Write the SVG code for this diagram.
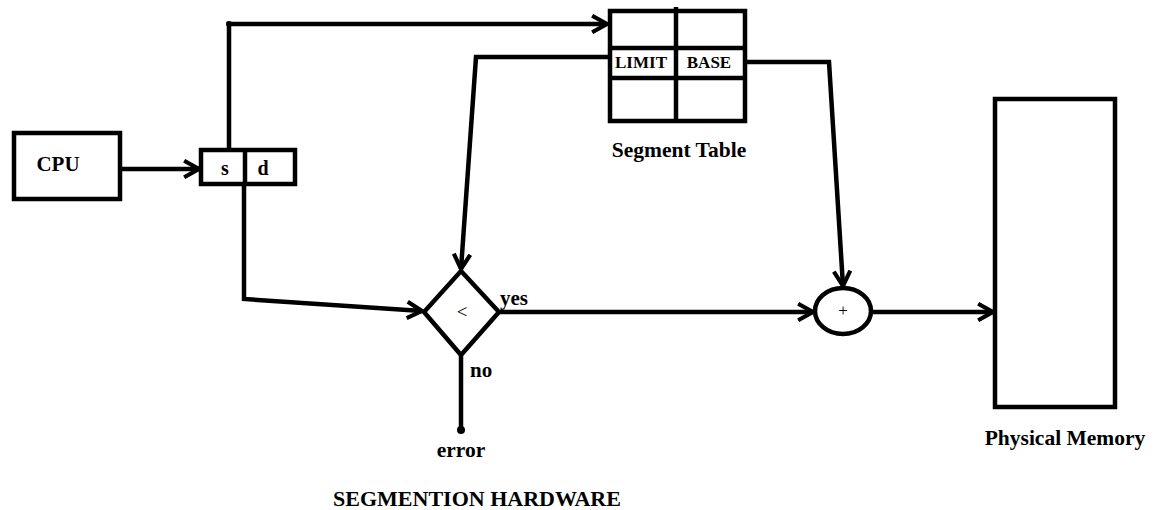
<svg xmlns="http://www.w3.org/2000/svg" width="1157" height="510" viewBox="0 0 1157 510">
<style>
.box{fill:#fff;stroke:#000;stroke-width:4.5}
.ln{fill:none;stroke:#000;stroke-width:4.5;stroke-linejoin:miter}
.t{font-family:"Liberation Serif",serif;font-weight:bold;fill:#000}
</style>
<defs>
<marker id="ah" viewBox="0 0 12 12" refX="11" refY="6" markerWidth="4.4" markerHeight="4.4" orient="auto" markerUnits="strokeWidth">
<path d="M2,1 L11,6 L2,11" fill="none" stroke="#000" stroke-width="2.5"/>
</marker>
</defs>
<rect width="1157" height="510" fill="#fff"/>
<g id="connectors">
<path class="ln" d="M118,169 L199,169" marker-end="url(#ah)"/>
<path class="ln" d="M229,149 L229,24 L607,24" marker-end="url(#ah)"/>
<path class="ln" d="M244,184 L244,299 L422,311" marker-end="url(#ah)"/>
<path class="ln" d="M610,57 L476,57 L461,269" marker-end="url(#ah)"/>
<path class="ln" d="M746,62 L829,62 L843,286" marker-end="url(#ah)"/>
<path class="ln" d="M500,312 L813,312" marker-end="url(#ah)"/>
<path class="ln" d="M873,312 L993,312" marker-end="url(#ah)"/>
<path class="ln" d="M461,356 L461,430"/>
<circle cx="118" cy="169" r="3"/>
<circle cx="229" cy="24" r="3"/>
<circle cx="461" cy="430" r="4"/>
</g>
<g id="cpu">
<rect class="box" x="14" y="133" width="106" height="66"/>
<text class="t" x="58" y="171" font-size="21" text-anchor="middle">CPU</text>
</g>
<g id="address">
<rect class="box" x="201" y="150" width="94" height="34"/>
<line class="ln" x1="245" y1="150" x2="245" y2="184"/>
<text class="t" x="225" y="175" font-size="20" text-anchor="middle">s</text>
<text class="t" x="263" y="175" font-size="20" text-anchor="middle">d</text>
</g>
<g id="segment-table">
<rect class="box" x="610" y="11" width="135" height="110"/>
<line class="ln" x1="610" y1="48" x2="745" y2="48"/>
<line class="ln" x1="610" y1="78" x2="745" y2="78"/>
<line class="ln" x1="676" y1="7" x2="676" y2="121"/>
<text class="t" x="641" y="68" font-size="17" text-anchor="middle">LIMIT</text>
<text class="t" x="709" y="68" font-size="17" text-anchor="middle">BASE</text>
<text class="t" x="679" y="157" font-size="21.5" text-anchor="middle">Segment Table</text>
</g>
<g id="compare">
<polygon class="box" points="461,271 499,312 461,355 424,312"/>
<text x="462" y="318" font-family="Liberation Serif,serif" font-size="19" text-anchor="middle">&lt;</text>
<text class="t" x="500" y="305" font-size="21">yes</text>
<text class="t" x="470" y="377" font-size="21">no</text>
</g>
<g id="error">
<text class="t" x="461" y="457" font-size="21.5" text-anchor="middle">error</text>
</g>
<g id="adder">
<ellipse class="box" cx="843" cy="311" rx="28" ry="23"/>
<text x="843" y="316" font-family="Liberation Serif,serif" font-size="17" text-anchor="middle">+</text>
</g>
<g id="physical-memory">
<rect class="box" x="995" y="99" width="120" height="308"/>
<text class="t" x="1065" y="445" font-size="21.5" text-anchor="middle">Physical Memory</text>
</g>
<text class="t" x="477" y="506" font-size="22" text-anchor="middle">SEGMENTION HARDWARE</text>
</svg>
